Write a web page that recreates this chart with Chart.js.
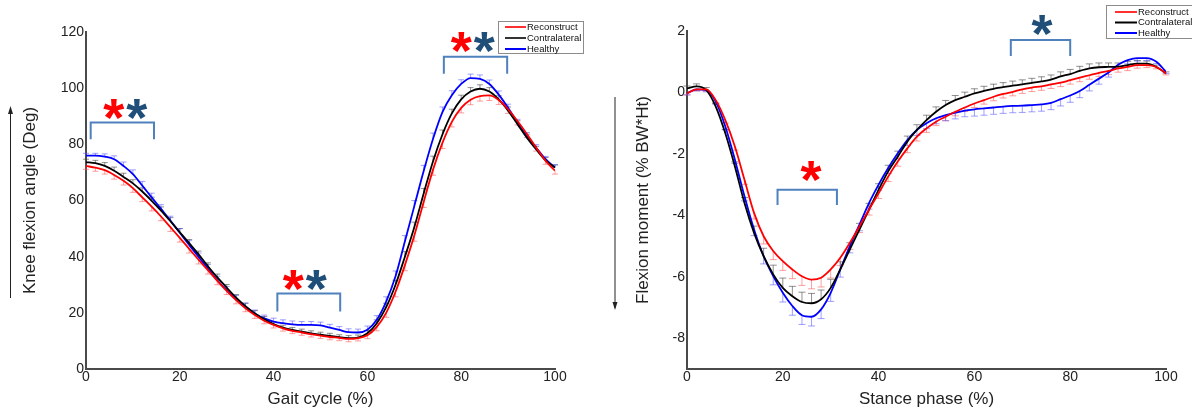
<!DOCTYPE html>
<html>
<head>
<meta charset="utf-8">
<script src="https://cdn.jsdelivr.net/npm/chart.js@4.4.0/dist/chart.umd.min.js"></script>
<style>
  body { margin: 0; background: #fff; width: 1192px; height: 412px; overflow: hidden; }
  .panel { position: absolute; top: 0; height: 412px; }
</style>
</head>
<body>
<div class="panel" style="left:0;width:600px"><canvas id="angleChart" width="600" height="412"></canvas></div>
<div class="panel" style="left:600px;width:592px"><canvas id="momentChart" width="592" height="412"></canvas></div>
<script>
// percent of cycle / stance, one sample every 2 %
const cyclePct = [0, 2, 4, 6, 8, 10, 12, 14, 16, 18, 20, 22, 24, 26, 28, 30, 32, 34, 36, 38, 40,
  42, 44, 46, 48, 50, 52, 54, 56, 58, 60, 62, 64, 66, 68, 70, 72, 74, 76, 78, 80,
  82, 84, 86, 88, 90, 92, 94, 96, 98, 100];

const seriesNames = ["Reconstruct", "Contralateral", "Healthy"];

// knee flexion angle (deg) - left panel
const angleRecon = [72.3, 71.7, 70.8, 69.1, 67.0, 64.4, 61.1, 57.8, 54.3, 50.5, 46.7, 42.8, 38.9, 35.2, 31.4, 27.8,
  24.5, 21.6, 19.2, 17.2, 15.7, 14.5, 13.6, 13.0, 12.4, 11.9, 11.4, 11.1, 10.7, 11.0, 12.0, 15.0, 20.0, 27.5,
  37.0, 47.5, 59.5, 71.0, 80.5, 88.0, 93.0, 95.9, 97.2, 97.4, 95.8, 92.5, 88.3, 83.7, 78.8, 74.1, 70.6];
const angleContra = [73.7, 73.3, 72.3, 70.6, 68.4, 66.1, 63.2, 59.9, 56.4, 52.6, 48.7, 44.8, 40.8, 36.6, 32.6, 29.0,
  25.4, 22.4, 19.8, 17.7, 16.0, 14.7, 13.9, 13.3, 12.7, 12.2, 11.8, 11.3, 11.0, 11.2, 12.7, 16.3, 22.0, 30.0,
  40.0, 50.5, 62.5, 74.0, 83.5, 91.0, 96.0, 98.8, 99.8, 98.8, 96.0, 92.0, 87.2, 82.4, 78.2, 74.3, 71.7];
const angleHealthy = [76.0, 76.0, 75.6, 74.7, 72.3, 69.4, 65.3, 61.1, 57.0, 52.9, 48.5, 44.2, 39.9, 35.8, 31.6, 28.1,
  24.9, 22.2, 19.8, 18.0, 16.9, 16.3, 15.9, 15.7, 15.7, 15.5, 14.7, 13.9, 13.1, 13.0, 14.0, 17.5, 24.0, 33.0,
  45.5, 58.0, 70.5, 82.0, 91.5, 97.5, 101.5, 103.6, 103.3, 101.5, 97.7, 93.0, 87.7, 83.0, 78.8, 74.7, 71.7];

// one-sided standard deviation bars (deg)
const angleReconSd = [1.2, 1.3, 1.4, 1.5, 1.5, 1.5, 1.5, 1.5, 1.5, 1.5, 1.5, 1.5, 1.5, 1.4, 1.4, 1.3,
  1.3, 1.2, 1.2, 1.1, 1.1, 1.0, 1.0, 1.0, 1.0, 1.0, 1.0, 1.0, 1.0, 1.0, 1.2, 1.4, 1.6, 1.8,
  2.0, 2.0, 2.0, 2.0, 2.0, 1.8, 1.8, 1.8, 1.8, 1.8, 1.6, 1.5, 1.4, 1.3, 1.2, 1.2, 1.2];
const angleContraSd = [1.0, 1.0, 1.2, 1.3, 1.3, 1.3, 1.3, 1.3, 1.3, 1.3, 1.3, 1.3, 1.2, 1.2, 1.2, 1.1,
  1.1, 1.0, 1.0, 1.0, 0.9, 0.9, 0.9, 0.9, 0.9, 0.9, 0.9, 0.9, 0.9, 0.9, 1.0, 1.2, 1.4, 1.6,
  1.8, 1.8, 1.8, 1.8, 1.6, 1.5, 1.5, 1.4, 1.4, 1.4, 1.3, 1.3, 1.2, 1.2, 1.1, 1.0, 1.0];
const angleHealthySd = [0.8, 0.8, 1.0, 1.2, 1.4, 1.5, 1.5, 1.5, 1.5, 1.5, 1.5, 1.5, 1.4, 1.4, 1.4, 1.3,
  1.3, 1.3, 1.2, 1.2, 1.2, 1.2, 1.2, 1.2, 1.2, 1.2, 1.2, 1.2, 1.2, 1.2, 1.3, 1.5, 1.7, 1.9,
  2.0, 2.0, 2.0, 2.0, 1.8, 1.6, 1.5, 1.4, 1.4, 1.4, 1.3, 1.3, 1.2, 1.2, 1.1, 1.0, 1.0];

// flexion moment (% BW*Ht) - right panel
const momentRecon = [-0.03, 0.10, 0.10, -0.25, -0.90, -1.76, -2.84, -3.92, -4.68, -5.16, -5.49, -5.76, -5.98, -6.09,
  -6.03, -5.76, -5.38, -4.89, -4.36, -3.81, -3.28, -2.74, -2.25, -1.82, -1.44, -1.17, -0.95, -0.79, -0.63,
  -0.49, -0.36, -0.25, -0.14, -0.05, 0.02, 0.10, 0.16, 0.20, 0.26, 0.32, 0.40, 0.48, 0.56, 0.64, 0.70,
  0.78, 0.83, 0.89, 0.89, 0.83, 0.62];
const momentContra = [0.13, 0.20, 0.08, -0.46, -1.33, -2.41, -3.60, -4.57, -5.33, -5.92, -6.36, -6.63, -6.82, -6.86,
  -6.73, -6.36, -5.76, -5.11, -4.46, -3.81, -3.17, -2.57, -2.09, -1.60, -1.22, -0.90, -0.63, -0.41, -0.25,
  -0.14, -0.03, 0.05, 0.12, 0.17, 0.22, 0.26, 0.31, 0.36, 0.42, 0.52, 0.60, 0.70, 0.78, 0.82, 0.83,
  0.84, 0.89, 0.94, 0.94, 0.83, 0.62];
const momentHealthy = [-0.03, 0.10, 0.08, -0.30, -1.11, -2.19, -3.38, -4.46, -5.33, -5.98, -6.52, -6.95, -7.25, -7.30,
  -7.06, -6.52, -5.76, -5.00, -4.30, -3.60, -3.00, -2.46, -1.98, -1.55, -1.22, -1.00, -0.84, -0.74, -0.66,
  -0.59, -0.55, -0.52, -0.49, -0.46, -0.44, -0.43, -0.41, -0.39, -0.34, -0.22, -0.10, 0.05, 0.25, 0.45, 0.65,
  0.90, 1.05, 1.12, 1.12, 1.00, 0.67];

const momentReconSd = [0.05, 0.05, 0.06, 0.08, 0.10, 0.12, 0.15, 0.20, 0.25, 0.28, 0.30, 0.30, 0.30, 0.30,
  0.30, 0.28, 0.25, 0.22, 0.20, 0.18, 0.17, 0.16, 0.15, 0.14, 0.14, 0.13, 0.13, 0.13, 0.13,
  0.13, 0.13, 0.13, 0.13, 0.13, 0.13, 0.13, 0.13, 0.13, 0.13, 0.13, 0.13, 0.13, 0.13, 0.12, 0.12,
  0.12, 0.12, 0.10, 0.08, 0.06, 0.05];
const momentContraSd = [0.08, 0.08, 0.08, 0.10, 0.12, 0.15, 0.18, 0.22, 0.26, 0.30, 0.32, 0.32, 0.32, 0.32,
  0.30, 0.28, 0.25, 0.22, 0.20, 0.20, 0.20, 0.20, 0.18, 0.18, 0.17, 0.16, 0.16, 0.15, 0.15,
  0.15, 0.15, 0.15, 0.15, 0.15, 0.15, 0.15, 0.15, 0.15, 0.15, 0.15, 0.15, 0.15, 0.15, 0.14, 0.13,
  0.12, 0.12, 0.10, 0.08, 0.06, 0.05];
const momentHealthySd = [0.05, 0.05, 0.06, 0.08, 0.10, 0.12, 0.15, 0.20, 0.25, 0.28, 0.30, 0.30, 0.30, 0.30,
  0.30, 0.28, 0.25, 0.22, 0.20, 0.20, 0.18, 0.18, 0.18, 0.18, 0.18, 0.18, 0.18, 0.18, 0.20,
  0.20, 0.22, 0.22, 0.22, 0.22, 0.22, 0.22, 0.22, 0.22, 0.22, 0.22, 0.22, 0.22, 0.20, 0.18, 0.15,
  0.12, 0.12, 0.10, 0.08, 0.06, 0.05];

// tick labels
const pctTicks = [0, 20, 40, 60, 80, 100];
const angleTicks = [0, 20, 40, 60, 80, 100, 120];
const momentTicks = [-8, -6, -4, -2, 0, 2];

const FONT = "'Liberation Sans', Arial, sans-serif";
const RED = "#ff0000";
const NAVY = "#1f4e79";
const BRACKET = "#4f81bd";

// significance brackets (data units)
const angleMarks = [
  { from: 1, to: 14.5, top: 87.8, foot: 81.8, stars: [[5.9, 91.3, RED], [10.8, 91.3, NAVY]] },
  { from: 40.8, to: 54.2, top: 26.9, foot: 20.5, stars: [[44.2, 30.4, RED], [49.1, 30.4, NAVY]] },
  { from: 76.3, to: 89.8, top: 111.2, foot: 105.1, stars: [[80, 114.9, RED], [84.9, 114.9, NAVY]] }
];
const momentMarks = [
  { from: 18.9, to: 31.3, top: -3.17, foot: -3.66, stars: [[25.9, -2.69, RED]] },
  { from: 67.6, to: 80, top: 1.71, foot: 1.19, stars: [[74.1, 2.05, NAVY]] }
];

function toPoints(values) {
  return values.map((v, i) => ({ x: cyclePct[i], y: v }));
}

function makeSet(name, values, sd, sign, color, barColor) {
  return {
    label: name,
    data: toPoints(values),
    sd: sd,
    barSign: sign,
    barColor: barColor,
    borderColor: color,
    borderWidth: 1.8,
    pointRadius: 0,
    fill: false,
    cubicInterpolationMode: "monotone"
  };
}

// error bars under the mean lines
const errorBars = {
  id: "errorBars",
  beforeDatasetsDraw(chart) {
    const { ctx, scales } = chart;
    const cap = chart.options.plugins.errorBars.cap;
    ctx.save();
    ctx.lineWidth = 1;
    chart.data.datasets.forEach((ds) => {
      ctx.strokeStyle = ds.barColor;
      ds.data.forEach((p, i) => {
        const px = scales.x.getPixelForValue(p.x);
        const y0 = scales.y.getPixelForValue(p.y);
        const y1 = scales.y.getPixelForValue(p.y + ds.barSign * ds.sd[i]);
        ctx.beginPath();
        ctx.moveTo(px, y0);
        ctx.lineTo(px, y1);
        ctx.moveTo(px - cap, y1);
        ctx.lineTo(px + cap, y1);
        ctx.stroke();
      });
    });
    ctx.restore();
  }
};

// brackets, stars, legend box and the axis arrow
const extras = {
  id: "extras",
  afterDraw(chart) {
    const { ctx, scales } = chart;
    const opts = chart.options.plugins.extras;
    ctx.save();

    // brackets + stars
    opts.marks.forEach((m) => {
      const x0 = scales.x.getPixelForValue(m.from);
      const x1 = scales.x.getPixelForValue(m.to);
      const yt = scales.y.getPixelForValue(m.top);
      const yb = scales.y.getPixelForValue(m.foot);
      ctx.strokeStyle = BRACKET;
      ctx.lineWidth = 2;
      ctx.beginPath();
      ctx.moveTo(x0, yb);
      ctx.lineTo(x0, yt);
      ctx.lineTo(x1, yt);
      ctx.lineTo(x1, yb);
      ctx.stroke();
      ctx.font = "bold 54px " + FONT;
      ctx.textAlign = "center";
      ctx.textBaseline = "alphabetic";
      m.stars.forEach((s) => {
        ctx.fillStyle = s[2];
        ctx.fillText("*", scales.x.getPixelForValue(s[0]), scales.y.getPixelForValue(s[1]) + 23);
      });
    });

    // legend
    const lg = opts.legend;
    ctx.fillStyle = "#fff";
    ctx.fillRect(lg.x, lg.y, lg.w, lg.h);
    ctx.strokeStyle = "#8c8c8c";
    ctx.lineWidth = 1;
    ctx.strokeRect(lg.x + 0.5, lg.y + 0.5, lg.w, lg.h);
    ctx.font = "9.5px " + FONT;
    ctx.textAlign = "left";
    ctx.textBaseline = "middle";
    seriesNames.forEach((name, i) => {
      const ry = lg.rows[i];
      ctx.strokeStyle = lg.colors[i];
      ctx.lineWidth = 2;
      ctx.beginPath();
      ctx.moveTo(lg.lineFrom, ry);
      ctx.lineTo(lg.lineTo, ry);
      ctx.stroke();
      ctx.fillStyle = "#111";
      ctx.fillText(name, lg.lineTo + 1, ry);
    });

    // arrow beside the y title
    const ar = opts.arrow;
    ctx.strokeStyle = "#222";
    ctx.fillStyle = "#222";
    ctx.lineWidth = 1;
    ctx.beginPath();
    ctx.moveTo(ar.x, ar.from);
    ctx.lineTo(ar.x, ar.to);
    ctx.stroke();
    const dir = ar.to < ar.from ? -1 : 1;
    ctx.beginPath();
    ctx.moveTo(ar.x, ar.to + dir * 2);
    ctx.lineTo(ar.x - 2.5, ar.to - dir * 6);
    ctx.lineTo(ar.x + 2.5, ar.to - dir * 6);
    ctx.closePath();
    ctx.fill();
    ctx.restore();
  }
};

function buildOptions(cfg) {
  return {
    responsive: false,
    animation: false,
    layout: { padding: cfg.padding },
    plugins: {
      legend: { display: false },
      tooltip: { enabled: false },
      errorBars: { cap: cfg.cap },
      extras: { marks: cfg.marks, legend: cfg.legend, arrow: cfg.arrow }
    },
    scales: {
      x: {
        type: "linear",
        min: 0,
        max: 100,
        afterBuildTicks: (s) => { s.ticks = pctTicks.map((v) => ({ value: v })); },
        afterFit: (s) => { s.height = 43; },
        grid: { display: false, drawTicks: false },
        border: { display: true, color: "#4a4a4a", width: 2 },
        ticks: { font: { size: 14, family: FONT }, color: "#222", padding: 0, maxRotation: 0 },
        title: { display: true, text: cfg.xTitle, font: { size: 17, family: FONT }, color: "#222",
          padding: { top: 0, bottom: 2 } }
      },
      y: {
        type: "linear",
        min: cfg.yMin,
        max: cfg.yMax,
        afterBuildTicks: (s) => { s.ticks = cfg.yTicks.map((v) => ({ value: v })); },
        afterFit: (s) => { s.width = cfg.yWidth; },
        grid: { display: false, drawTicks: false },
        border: { display: true, color: "#4a4a4a", width: 2 },
        ticks: { font: { size: 14, family: FONT }, color: "#222", padding: 2 },
        title: { display: true, text: cfg.yTitle, font: { size: 17, family: FONT }, color: "#222",
          padding: { top: cfg.yTitlePad, bottom: 0 } }
      }
    }
  };
}

new Chart(document.getElementById("angleChart"), {
  type: "line",
  data: {
    datasets: [
      makeSet(seriesNames[0], angleRecon, angleReconSd, -1, RED, "rgba(255,80,80,0.55)"),
      makeSet(seriesNames[1], angleContra, angleContraSd, 1, "#000", "rgba(70,70,70,0.6)"),
      makeSet(seriesNames[2], angleHealthy, angleHealthySd, 1, "#0000ff", "rgba(80,80,255,0.55)")
    ]
  },
  options: buildOptions({
    padding: { left: 0, right: 45, top: 32, bottom: 0 },
    cap: 3,
    yMin: 0, yMax: 120, yTicks: angleTicks, yWidth: 86, yTitlePad: 20,
    xTitle: "Gait cycle (%)",
    yTitle: "Knee flexion angle (Deg)",
    marks: angleMarks,
    legend: { x: 498, y: 21, w: 85, h: 32, lineFrom: 505, lineTo: 526, rows: [27, 38, 49],
      colors: ["#ff3030", "#333", "#0000ff"] },
    arrow: { x: 10.5, from: 298, to: 108 }
  }),
  plugins: [errorBars, extras]
});

new Chart(document.getElementById("momentChart"), {
  type: "line",
  data: {
    datasets: [
      makeSet(seriesNames[0], momentRecon, momentReconSd, -1, RED, "rgba(255,80,80,0.55)"),
      makeSet(seriesNames[1], momentContra, momentContraSd, 1, "#000", "rgba(70,70,70,0.6)"),
      makeSet(seriesNames[2], momentHealthy, momentHealthySd, -1, "#0000ff", "rgba(80,80,255,0.55)")
    ]
  },
  options: buildOptions({
    padding: { left: 0, right: 26, top: 31, bottom: 0 },
    cap: 3.5,
    yMin: -9, yMax: 2, yTicks: momentTicks, yWidth: 87, yTitlePad: 33,
    xTitle: "Stance phase (%)",
    yTitle: "Flexion moment (% BW*Ht)",
    marks: momentMarks,
    legend: { x: 506, y: 5, w: 100, h: 33, lineFrom: 515, lineTo: 537, rows: [12, 22.5, 33],
      colors: ["#ff3030", "#000", "#0000ff"] },
    arrow: { x: 15, from: 97, to: 308 }
  }),
  plugins: [errorBars, extras]
});
</script>
</body>
</html>
